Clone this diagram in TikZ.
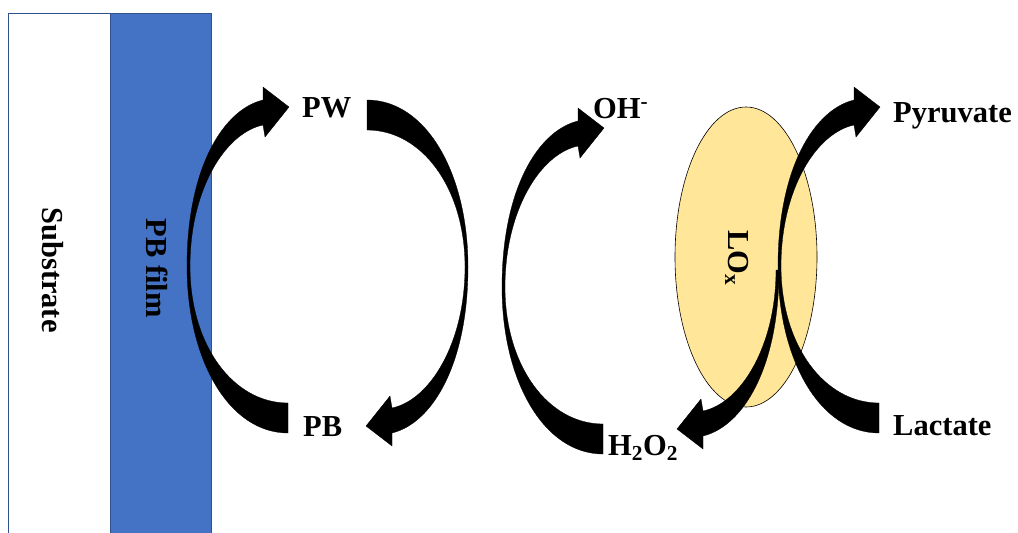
\documentclass[tikz,border=0pt]{standalone}
\usepackage{fontspec}
\setmainfont{Liberation Serif}
\tikzset{
  lbl/.style={font=\fontsize{30.5}{36}\selectfont\bfseries, inner sep=0pt, text=black},
  layerbox/.style={draw=layerline, line width=0.7pt},
  blockarrow/.style={fill=black, draw=black, line width=0.3pt}
}
\newcommand\fullarrowshape[1]{%
  \path[blockarrow,#1] (288,433) .. controls (229,433) and (187,360) .. (187,266)
    .. controls (187,170) and (222,110) .. (263,100)
    -- (263,87) -- (289,107) -- (265,137) -- (263,125)
    .. controls (225,133) and (190,190) .. (190,266)
    .. controls (190,345) and (233,403) .. (288,403) -- cycle;}
\newcommand\halfarrowshape[1]{%
  \path[blockarrow,#1] (187,266)
    .. controls (187,170) and (222,110) .. (263,100)
    -- (263,87) -- (289,107) -- (265,137) -- (263,125)
    .. controls (225,133) and (190,190) .. (190,266) -- cycle;}
\definecolor{pbblue}{HTML}{4472C4}
\definecolor{layerline}{HTML}{2F528F}
\definecolor{enzyme}{HTML}{FFE699}
\begin{document}
\begin{tikzpicture}[x=1pt,y=-1pt]
\useasboundingbox (0,0) rectangle (1018,533);
\fill[white] (0,0) rectangle (1018,533);
% layers
\path[layerbox, fill=white] (8,13) rectangle (110,540);
\path[layerbox, fill=pbblue] (110,13) rectangle (211,540);
\node[lbl, rotate=-90] (substrate) at (53,270) {Substrate};
\node[lbl, rotate=-90] (pbfilm) at (157,268) {PB film};
% enzyme
\path[fill=enzyme, draw=black, line width=0.6pt] (746,257) ellipse [x radius=71, y radius=150];
\node[lbl, rotate=-90] (lox) at (737,258) {LO\textsubscript{x}};
% arrows
\fullarrowshape{}
\fullarrowshape{rotate around={180:(327.5,266.5)}}
\fullarrowshape{shift={(315,21)}}
\fullarrowshape{shift={(591,0)}}
\halfarrowshape{rotate around={180:(483,268)}}
% labels
\node[lbl, anchor=base west] (pw) at (302,117) {PW};
\node[lbl, anchor=base west] (pb) at (303,436) {PB};
\node[lbl, anchor=base west] (oh) at (593,118) {OH\textsuperscript{-}};
\node[lbl, anchor=base west] (h2o2) at (608,455) {H\textsubscript{2}O\textsubscript{2}};
\node[lbl, anchor=base west] (pyr) at (893,122) {Pyruvate};
\node[lbl, anchor=base west] (lac) at (893,435) {Lactate};
\end{tikzpicture}
\end{document}
